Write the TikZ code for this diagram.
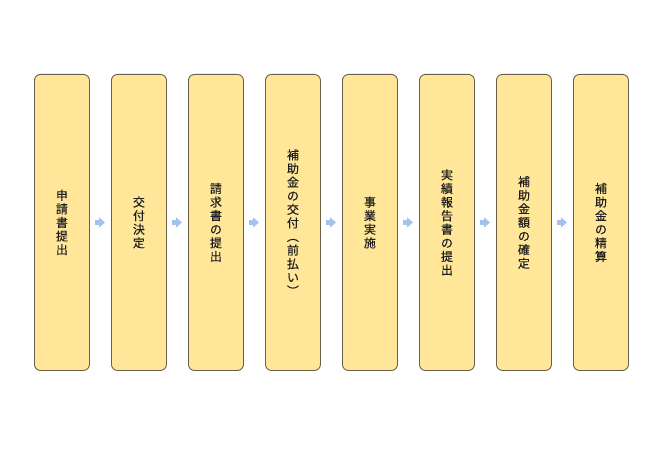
\documentclass[tikz,border=0pt]{standalone}
\usepackage{fontspec}
\newfontfamily\jp[FakeBold=0.15]{Noto Sans CJK JP}
\usetikzlibrary{arrows.meta}
\definecolor{boxfill}{RGB}{255,230,153}
\definecolor{boxline}{RGB}{105,95,75}
\definecolor{arrowblue}{RGB}{164,194,235}
\definecolor{txt}{RGB}{30,30,30}
\begin{document}
\begin{tikzpicture}[x=1pt,y=-1pt,
  stepbox/.style={draw=boxline, line width=0.9pt, fill=boxfill, rounded corners=6pt,
    minimum width=55pt, minimum height=296pt, inner sep=0pt, anchor=north west,
    align=center, text=txt, font=\jp\fontsize{12}{13.6}\selectfont},
  flowarrow/.style={draw=arrowblue, line width=5.5pt, shorten <=5pt, shorten >=6pt,
    -{Triangle[width=10pt,length=6pt,color=arrowblue]}}]
\useasboundingbox (0,0) rectangle (660,457);
\fill[white] (0,0) rectangle (660,457);
\node[stepbox] (b1) at (34,74) {申\\請\\書\\提\\出};
\node[stepbox] (b2) at (111,74) {交\\付\\決\\定};
\node[stepbox] (b3) at (188,74) {請\\求\\書\\の\\提\\出};
\node[stepbox] (b4) at (265,74) {補\\助\\金\\の\\交\\付\\︵\\前\\払\\い\\︶};
\node[stepbox] (b5) at (342,74) {事\\業\\実\\施};
\node[stepbox] (b6) at (419,74) {実\\績\\報\\告\\書\\の\\提\\出};
\node[stepbox] (b7) at (496,74) {補\\助\\金\\額\\の\\確\\定};
\node[stepbox] (b8) at (573,74) {補\\助\\金\\の\\精\\算};
\foreach \a/\b in {b1/b2,b2/b3,b3/b4,b4/b5,b5/b6,b6/b7,b7/b8}
  \draw[flowarrow] (\a) -- (\b);
\end{tikzpicture}
\end{document}
